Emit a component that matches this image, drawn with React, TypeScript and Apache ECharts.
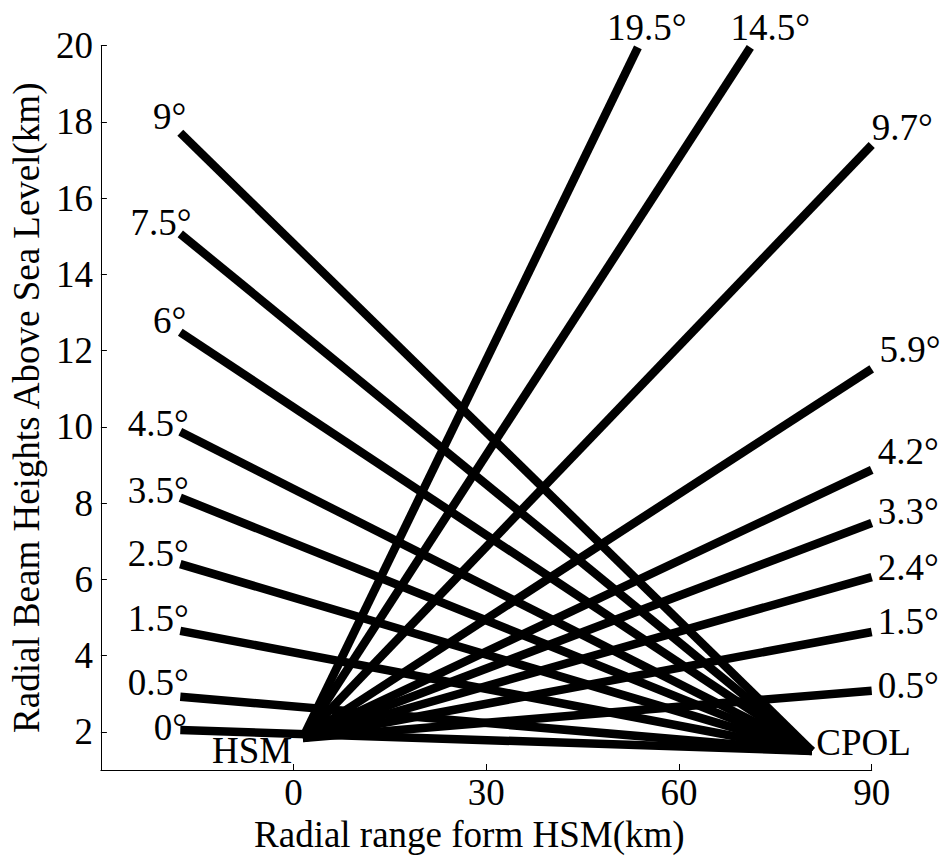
import React, { useEffect, useRef } from "react";
import * as echarts from "echarts";

// Radar positions (x: range from HSM in km, y: height in km)
const hsmOrigin = [1.44, 1.84];
const cpolOrigin = [80.7, 1.5];

// HSM elevation beams (drawn from HSM towards the right)
const hsmAngles = ["0.5°", "1.5°", "2.4°", "3.3°", "4.2°", "5.9°", "9.7°", "14.5°", "19.5°"];
const hsmEndX = [90, 90, 90, 90, 90, 90, 90, 71.1, 53.6];
const hsmEndY = [3.08, 4.62, 6.06, 7.48, 8.87, 11.52, 17.39, 19.95, 19.95];
const hsmLabelX = [90.96, 90.96, 90.96, 90.96, 90.96, 91.2, 90.0, 74.2, 54.98];
const hsmLabelY = [3.21, 4.89, 6.3, 7.77, 9.34, 12.02, 17.86, 20.46, 20.46];

// CPOL elevation beams (drawn from CPOL towards the left)
const cpolAngles = ["0°", "0.5°", "1.5°", "2.5°", "3.5°", "4.5°", "6°", "7.5°", "9°"];
const cpolEndX = [-17.64, -17.64, -17.64, -17.64, -17.64, -17.64, -17.64, -17.64, -17.64];
const cpolEndY = [2.05, 2.92, 4.65, 6.4, 8.14, 9.87, 12.48, 15.06, 17.71];
const cpolLabelX = [-16.6, -16.3, -16.3, -16.3, -16.3, -16.3, -16.7, -15.9, -16.7];
const cpolLabelY = [2.11, 3.29, 4.96, 6.67, 8.32, 10.1, 12.78, 15.37, 18.15];

// Station name labels
const stationNames = ["HSM", "CPOL"];
const stationLabelX = [-6.47, 81.37];
const stationLabelY = [1.5, 1.71];

const xTicks = [0, 30, 60, 90];
const yTicks = [2, 4, 6, 8, 10, 12, 14, 16, 18, 20];

const FONT = '"Liberation Serif", "Times New Roman", serif';

export default function App() {
  const ref = useRef<HTMLDivElement>(null);

  useEffect(() => {
    document.body.style.margin = "0";
    if (!ref.current) return;
    const chart = echarts.init(ref.current, undefined, { renderer: "svg" });

    const lineSeries: any[] = [];
    hsmAngles.forEach((a, i) => {
      lineSeries.push({
        type: "line",
        name: "HSM " + a,
        data: [hsmOrigin, [hsmEndX[i], hsmEndY[i]]],
        symbol: "none",
        silent: true,
        clip: false,
        lineStyle: { color: "#000", width: 8.5, cap: "butt" },
      });
    });
    cpolAngles.forEach((a, i) => {
      lineSeries.push({
        type: "line",
        name: "CPOL " + a,
        data: [cpolOrigin, [cpolEndX[i], cpolEndY[i]]],
        symbol: "none",
        silent: true,
        clip: false,
        lineStyle: { color: "#000", width: 8.5, cap: "butt" },
      });
    });

    const labelBase = {
      type: "scatter",
      symbol: "circle",
      symbolSize: 1,
      silent: true,
      clip: false,
      itemStyle: { color: "rgba(0,0,0,0)" },
    };
    const textStyle = { fontFamily: FONT, fontSize: 37, color: "#000" };

    const hsmLeft = hsmAngles
      .map((a, i) => ({ a, i }))
      .filter(({ i }) => hsmEndX[i] >= 90)
      .map(({ a, i }) => [hsmLabelX[i], hsmLabelY[i], a]);
    const hsmTop = hsmAngles
      .map((a, i) => ({ a, i }))
      .filter(({ i }) => hsmEndX[i] < 90)
      .map(({ a, i }) => [hsmLabelX[i], hsmLabelY[i], a]);
    const cpolData = cpolAngles.map((a, i) => [cpolLabelX[i], cpolLabelY[i], a]);
    const stationData = stationNames.map((n, i) => [stationLabelX[i], stationLabelY[i], n]);

    const mkLabelSeries = (data: any[], align: string) => ({
      ...labelBase,
      data,
      label: {
        show: true,
        position: "inside",
        align,
        verticalAlign: "middle",
        formatter: (p: any) => p.value[2],
        textBorderWidth: 0,
        textShadowBlur: 0,
        opacity: 1,
        ...textStyle,
      },
    });

    const option: any = {
      animation: false,
      backgroundColor: "#fff",
      grid: { left: 98.5, right: 74.3, top: 45.5, bottom: 91, containLabel: false },
      xAxis: {
        type: "value",
        min: -30,
        max: 90,
        interval: 30,
        axisLine: { show: true, onZero: false, lineStyle: { color: "#000", width: 1 } },
        axisTick: { show: true, inside: true, length: 6, customValues: xTicks, lineStyle: { color: "#000" } },
        axisLabel: { customValues: xTicks, margin: 4, ...textStyle },
        splitLine: { show: false },
        name: "Radial range form HSM(km)",
        nameLocation: "middle",
        nameGap: 36,
        nameTextStyle: { ...textStyle, padding: [0, 34, 0, 0] },
      },
      yAxis: {
        type: "value",
        min: 1,
        max: 20,
        axisLine: { show: true, onZero: false, lineStyle: { color: "#000", width: 1 } },
        axisTick: { show: true, inside: true, length: 6, customValues: yTicks, lineStyle: { color: "#000" } },
        axisLabel: { customValues: yTicks, margin: 8, ...textStyle },
        splitLine: { show: false },
        name: "Radial Beam Heights Above Sea Level(km)",
        nameLocation: "middle",
        nameRotate: 90,
        nameGap: 50,
        nameTextStyle: { ...textStyle },
      },
      series: [
        ...lineSeries,
        mkLabelSeries(hsmLeft, "left"),
        mkLabelSeries(hsmTop, "center"),
        mkLabelSeries(cpolData, "right"),
        mkLabelSeries(stationData.slice(0, 1), "center"),
        mkLabelSeries(stationData.slice(1), "left"),
      ],
    };
    chart.setOption(option);
    return () => chart.dispose();
  }, []);

  return (
    <div
      ref={ref}
      style={{ position: "fixed", left: 0, top: 0, width: 946, height: 861, background: "#fff" }}
    />
  );
}
